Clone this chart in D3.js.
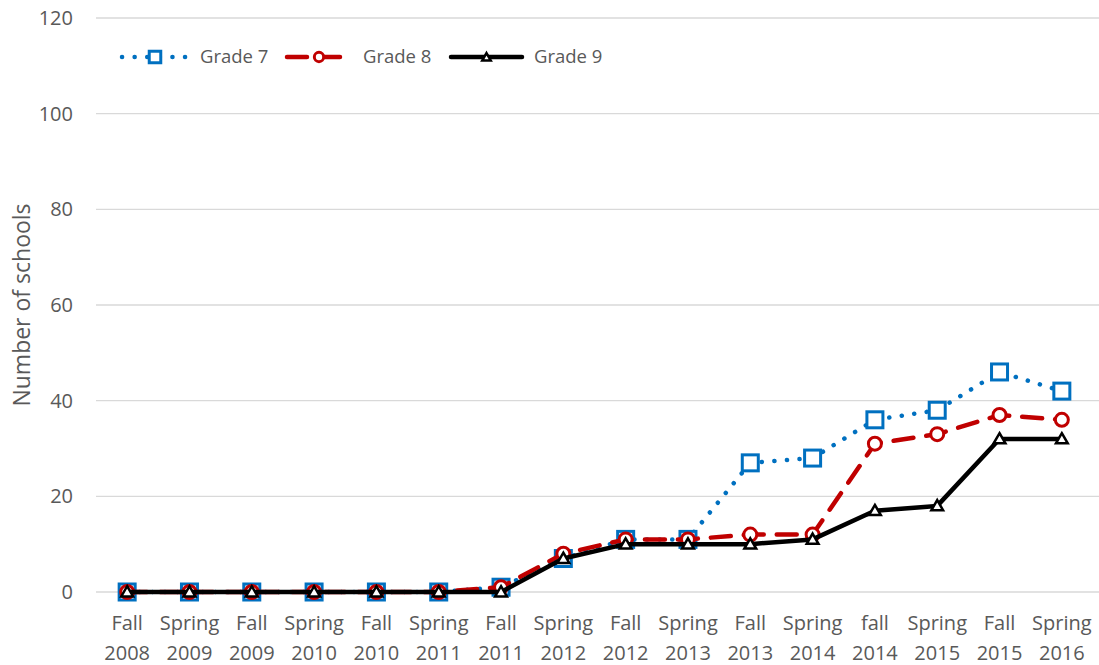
<!DOCTYPE html>
<html>
<head>
<meta charset="utf-8">
<script src="https://cdn.jsdelivr.net/npm/d3@7"></script>
<style>
  body { margin: 0; background: #fff; }
  svg { display: block; font-family: "Open Sans", sans-serif; }
</style>
</head>
<body>
<div id="app"></div>
<script>
// terms (two-line tick labels)
const terms = ['Fall|2008', 'Spring|2009', 'Fall|2009', 'Spring|2010', 'Fall|2010', 'Spring|2011',
  'Fall|2011', 'Spring|2012', 'Fall|2012', 'Spring|2013', 'Fall|2013', 'Spring|2014',
  'fall|2014', 'Spring|2015', 'Fall|2015', 'Spring|2016']
const grade7 = [0, 0, 0, 0, 0, 0, 1, 7, 11, 11, 27, 28, 36, 38, 46, 42]
const grade8 = [0, 0, 0, 0, 0, 0, 1, 8, 11, 11, 12, 12, 31, 33, 37, 36]
const grade9 = [0, 0, 0, 0, 0, 0, 0, 7, 10, 10, 10, 11, 17, 18, 32, 32]
const yTicks = [0, 20, 40, 60, 80, 100, 120]
const seriesNames = ['Grade 7', 'Grade 8', 'Grade 9']

const W = 1099, H = 665
const svg = d3.select('#app').append('svg').attr('width', W).attr('height', H)

const x = d3.scaleBand().domain(terms).range([96, 1093])
const cx = (t) => x(t) + x.bandwidth() / 2
const y = d3.scaleLinear().domain([0, 120]).range([592, 18])

// gridlines
svg.append('g').selectAll('line').data(yTicks).join('line')
  .attr('x1', 96).attr('x2', W)
  .attr('y1', (d) => y(d)).attr('y2', (d) => y(d))
  .attr('stroke', '#d9d9d9').attr('stroke-width', 1.3)

// y tick labels
svg.append('g').selectAll('text').data(yTicks).join('text')
  .attr('x', 73).attr('y', (d) => y(d))
  .attr('dy', '0.35em').attr('text-anchor', 'end')
  .attr('fill', '#595959').attr('font-size', 20)
  .text((d) => d)

// x tick labels
const xl = svg.append('g').selectAll('text').data(terms).join('text')
  .attr('text-anchor', 'middle').attr('fill', '#595959').attr('font-size', 20)
xl.append('tspan').attr('x', (d) => cx(d)).attr('y', 630).text((d) => d.split('|')[0])
xl.append('tspan').attr('x', (d) => cx(d)).attr('y', 660).text((d) => d.split('|')[1])

// y axis title
svg.append('text')
  .attr('transform', 'translate(30,305) rotate(-90)')
  .attr('text-anchor', 'middle').attr('fill', '#595959').attr('font-size', 23)
  .text('Number of schools')

const styles = [
  { color: '#0070C0', width: 4.5, dash: '0.1 12.5', cap: 'round', marker: 'square' },
  { color: '#C00000', width: 4.5, dash: '20 13', cap: 'round', marker: 'circle' },
  { color: '#000000', width: 4.5, dash: null, cap: 'round', marker: 'triangle' }
]
const data = [grade7, grade8, grade9]

function drawMarker(g, kind, color, px, py, sc) {
  if (kind === 'square') {
    const h = 8 * sc
    g.append('rect').attr('x', px - h).attr('y', py - h).attr('width', 2 * h).attr('height', 2 * h)
      .attr('fill', '#fff').attr('stroke', color).attr('stroke-width', 3)
  } else if (kind === 'circle') {
    g.append('circle').attr('cx', px).attr('cy', py).attr('r', 6.5 * sc)
      .attr('fill', '#fff').attr('stroke', color).attr('stroke-width', 3)
  } else {
    g.append('path').attr('d', d3.symbol(d3.symbolTriangle, 60 * sc * sc)())
      .attr('transform', `translate(${px},${py + 1})`)
      .attr('fill', '#fff').attr('stroke', color).attr('stroke-width', 2.5)
      .attr('stroke-linejoin', 'miter')
  }
}

const line = d3.line().x((d, i) => cx(terms[i])).y((d) => y(d))

data.forEach((vals, k) => {
  const s = styles[k]
  const g = svg.append('g')
  g.append('path').datum(vals).attr('d', line)
    .attr('fill', 'none').attr('stroke', s.color).attr('stroke-width', s.width)
    .attr('stroke-dasharray', s.dash).attr('stroke-linecap', s.cap)
    .attr('stroke-linejoin', 'round')
  vals.forEach((v, i) => drawMarker(g, s.marker, s.color, cx(terms[i]), y(v), 1))
})

// legend
const legendX = [122, 287, 451]
const legendW = [66, 64, 71]
seriesNames.forEach((name, k) => {
  const s = styles[k]
  const g = svg.append('g')
  const x0 = legendX[k], x1 = legendX[k] + legendW[k], ly = 57
  g.append('line').attr('x1', x0).attr('x2', x1).attr('y1', ly).attr('y2', ly)
    .attr('stroke', s.color).attr('stroke-width', s.width)
    .attr('stroke-dasharray', s.dash).attr('stroke-linecap', s.cap)
  drawMarker(g, s.marker, s.color, (x0 + x1) / 2, ly, 0.72)
  g.append('text').attr('x', x1 + 12).attr('y', ly).attr('dy', '0.35em')
    .attr('fill', '#595959').attr('font-size', 18.5).text(name)
})
</script>
</body>
</html>
